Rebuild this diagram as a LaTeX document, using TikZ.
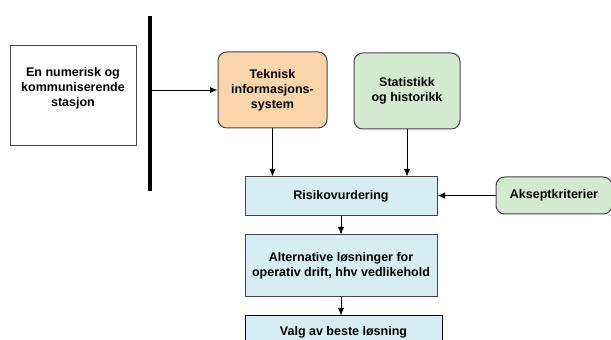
\documentclass[tikz,border=0pt]{standalone}
\usepackage{fontspec}
\setmainfont{Liberation Sans}
\usetikzlibrary{arrows.meta,positioning}

\definecolor{peach}{RGB}{250,213,170}
\definecolor{palegreen}{RGB}{212,234,208}
\definecolor{paleblue}{RGB}{214,237,243}
\definecolor{edgegray}{RGB}{70,70,70}

\tikzset{
    box/.style={draw=edgegray, line width=0.8pt, align=center, inner sep=0pt,
        font=\bfseries\fontsize{10}{12}\selectfont},
    roundbox/.style={box, rounded corners=7pt},
    flow/.style={-{Latex[length=6pt,width=5pt]}, line width=0.7pt}
}

\begin{document}
\begin{tikzpicture}[x=0.8pt, y=-0.8pt]

    \clip (0,0) rectangle (611,340);

    % LEFT: station and its boundary
    \node[box, minimum width=100.8pt, minimum height=80pt] (num) at (73,96) {};
    \node[box, draw=none] (numtxt) at (73,88) {En numerisk og\\kommuniserende\\stasjon};
    \coordinate (bartop) at (150,16);
    \coordinate (barbot) at (150,191);
    \draw[line width=2.6pt] (bartop) -- (barbot);

    % Input boxes
    \node[roundbox, fill=peach, minimum width=87.2pt, minimum height=60.8pt] (tek) at (272.5,90)
        {Teknisk\\informasjons-\\system};
    \node[roundbox, fill=palegreen, minimum width=84.8pt, minimum height=60.8pt] (stat) at (407,91)
        {Statistikk\\og historikk};
    \node[roundbox, fill=palegreen, minimum width=92.8pt, minimum height=29.6pt] (aksept) at (554,195.5)
        {Akseptkriterier};

    % Main chain
    \node[box, fill=paleblue, minimum width=153.6pt, minimum height=31.2pt] (risk) at (341,196.5)
        {Risikovurdering};
    \node[box, fill=paleblue, minimum width=153.6pt, minimum height=49.6pt] (alt) at (341,266)
        {Alternative løsninger for\\operativ drift, hhv vedlikehold};
    \node[box, draw=black, fill=paleblue, minimum width=157.6pt, minimum height=25.6pt] (valg) at (343.5,332)
        {Valg av beste løsning};

    % Arrows
    \coordinate (barout) at (150,90);
    \draw[flow] (barout) -- (tek.west);
    \draw[flow] (tek.south) -- (tek.south |- risk.north);
    \draw[flow] (stat.south) -- (stat.south |- risk.north);
    \draw[flow] (aksept.west) -- (aksept.west -| risk.east);
    \draw[flow] (risk.south) -- (alt.north);
    \draw[flow] (alt.south) -- (alt.south |- valg.north);

\end{tikzpicture}
\end{document}
